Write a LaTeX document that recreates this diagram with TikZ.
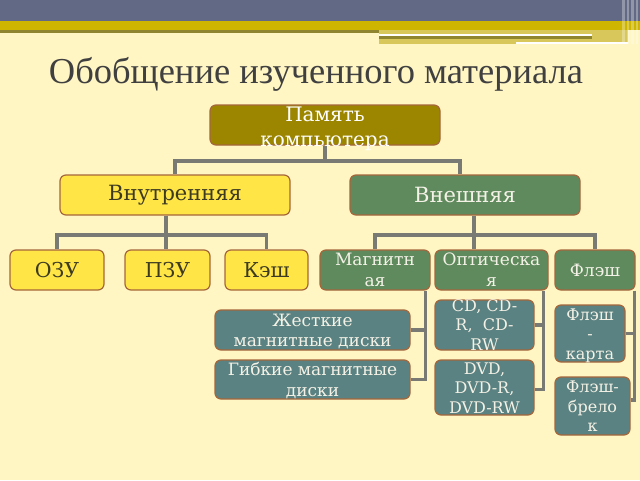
\documentclass[tikz,border=0pt]{standalone}
\usepackage{fontspec}
\setmainfont{DejaVu Serif}
\newfontfamily\titlefont{Liberation Serif}
\definecolor{paper}{HTML}{FFF6C4}
\definecolor{topblue}{HTML}{626985}
\definecolor{bandyellow}{HTML}{CDB500}
\definecolor{bandolive}{HTML}{8F8530}
\definecolor{bandlight}{HTML}{D8C75A}
\definecolor{boxedge}{HTML}{A5663A}
\definecolor{memfill}{HTML}{9C8600}
\definecolor{boxyellow}{HTML}{FFE546}
\definecolor{boxgreen}{HTML}{5F8A5E}
\definecolor{boxteal}{HTML}{5B8282}
\definecolor{txtdark}{HTML}{3C3A22}
\definecolor{txtlight}{HTML}{F4F2E6}
\definecolor{linkgray}{HTML}{7A7A75}
\newcommand{\boxlines}[2][-6.5pt]{\smash{\raisebox{#1}{\begin{tabular}{@{}c@{}}#2\end{tabular}}}}
\tikzset{>=stealth,
  box/.style={draw=boxedge, line width=1.2pt, rounded corners=6pt, inner sep=0pt, align=center},
  yellowbox/.style={box, fill=boxyellow, text=txtdark},
  greenbox/.style={box, fill=boxgreen, text=txtlight},
  tealbox/.style={box, fill=boxteal, text=txtlight},
  link/.style={draw=linkgray, line width=3.2pt},
  big/.style={font=\fontsize{21}{25}\selectfont},
  mid/.style={font=\fontsize{20.5}{24}\selectfont},
  small/.style={font=\fontsize{17}{20.5}\selectfont},
  tiny/.style={font=\fontsize{16}{19.5}\selectfont},
}

\begin{document}
\begin{tikzpicture}[x=1pt,y=-1pt]
    \useasboundingbox (0,0) rectangle (640,480);
    \fill[paper] (0,0) rectangle (640,480);
    \fill[topblue] (0,0) rectangle (640,21);
    \fill[bandyellow] (0,21) rectangle (640,30);
    \fill[bandolive] (0,30) rectangle (379,32.5);
    \fill[bandlight] (379,30) rectangle (628,44);
    \fill[white] (379,33.5) rectangle (592,35.5);
    \fill[bandolive] (379,35.5) rectangle (592,38.5);
    \fill[white] (516,41.5) rectangle (628,43.5);
    \foreach \x/\w in {622/3, 627/2, 631/3, 636/2}
        \fill[white, opacity=.3] (\x,0) rectangle ++(\w,44);

    \node[text=black!75, font=\titlefont\fontsize{36.5}{42}\selectfont] (title) at (316,74) {Обобщение изученного материала};

    \node[box, fill=memfill, text=white, minimum width=230pt, minimum height=40pt,
          font=\fontsize{20}{25}\selectfont] (mem) at (325,125) {\boxlines[-9.5pt]{Память\\компьютера}};
    \node[yellowbox, big, minimum width=230pt, minimum height=40pt] (inner) at (175,195) {Внутренняя};
    \node[greenbox, big, minimum width=230pt, minimum height=40pt] (outer) at (465,195) {Внешняя};

    \node[yellowbox, mid, minimum width=94pt, minimum height=40pt] (ozu) at (57,270) {ОЗУ};
    \node[yellowbox, mid, minimum width=85pt, minimum height=40pt] (pzu) at (167.5,270) {ПЗУ};
    \node[yellowbox, mid, minimum width=83pt, minimum height=40pt] (kesh) at (266.5,270) {Кэш};
    \node[greenbox, small, minimum width=110pt, minimum height=40pt] (mag) at (375,270) {\boxlines[-6pt]{Магнитн\\ая}};
    \node[greenbox, small, minimum width=113pt, minimum height=40pt] (opt) at (491.5,270) {\boxlines[-6pt]{Оптическа\\я}};
    \node[greenbox, small, minimum width=80pt, minimum height=40pt] (flash) at (595,270) {Флэш};

    \node[tealbox, small, minimum width=195pt, minimum height=40pt] (hdd) at (312.5,330) {\boxlines{Жесткие\\магнитные диски}};
    \node[tealbox, small, minimum width=195pt, minimum height=39pt] (fdd) at (312.5,379.5) {\boxlines{Гибкие магнитные\\диски}};
    \node[tealbox, tiny, minimum width=99pt, minimum height=50pt] (cd) at (484.5,325) {\boxlines[-6pt]{CD, CD-\\R,\ \ CD-\\RW}};
    \node[tealbox, tiny, minimum width=99pt, minimum height=55pt] (dvd) at (484.5,387.5) {\boxlines{DVD,\\DVD-R,\\DVD-RW}};
    \node[tealbox, tiny, minimum width=70pt, minimum height=57pt] (fcard) at (590,333.5) {\boxlines{Флэш\\-\\карта}};
    \node[tealbox, tiny, minimum width=75pt, minimum height=58pt] (fkey) at (592.5,406) {\boxlines{Флэш-\\брело\\к}};

    \coordinate (bus0) at (325,161);
    \coordinate (bus1) at (166,235);
    \coordinate (bus2) at (474,235);
    \draw[link] (mem.south) -- (bus0);
    \draw[link] (inner.north) |- (bus0) -| ([xshift=-5pt]outer.north);
    \draw[link] (inner.south -| bus1) -- (pzu.north -| bus1);
    \draw[link] (ozu.north) |- (bus1) -| (kesh.north);
    \draw[link] (outer.south -| bus2) -- (opt.north -| bus2);
    \draw[link] (mag.north) |- (bus2) -| (flash.north);
    \draw[link] (hdd.east) -| ([xshift=-5pt]mag.south east);
    \draw[link] ([xshift=-5pt]mag.south east) |- (fdd.east);
    \draw[link] (cd.east) -| ([xshift=-5pt]opt.south east);
    \draw[link] ([xshift=-5pt]opt.south east) |- ([yshift=-2pt]dvd.east);
    \draw[link] (fcard.east) -| ([xshift=-1pt]flash.south east);
    \draw[link] ([xshift=-1pt]flash.south east) |- ([yshift=6pt]fkey.east);
\end{tikzpicture}
\end{document}
